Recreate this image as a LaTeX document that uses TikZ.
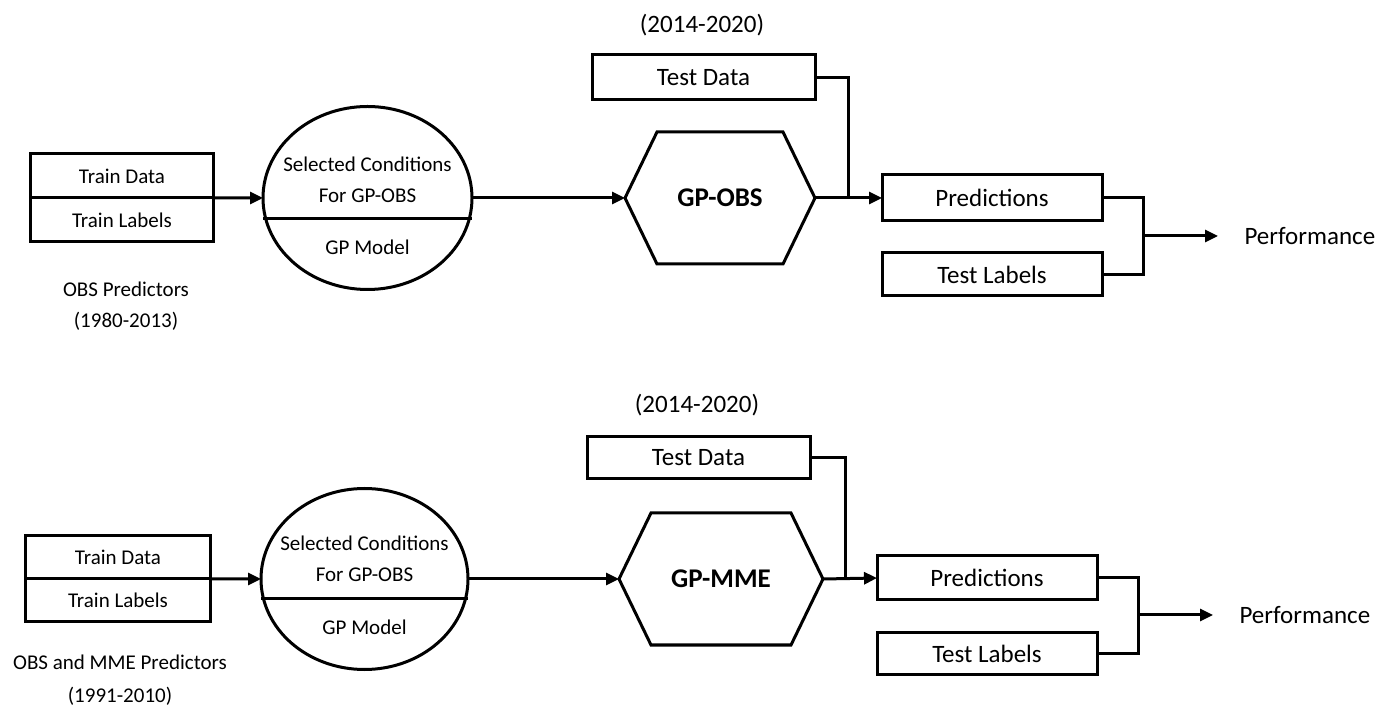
\documentclass[tikz,border=0pt]{standalone}
\usepackage{fontspec}
\setmainfont{Carlito}
\usetikzlibrary{shapes.geometric,arrows.meta}

% hexagon outline round a named node: #1 node, #2 corner cut
\newcommand{\hexframe}[2]{%
  \draw (#1.west) -- ([xshift=#2]#1.north west) -- ([xshift=-#2]#1.north east)
    -- (#1.east) -- ([xshift=-#2]#1.south east) -- ([xshift=#2]#1.south west) -- cycle;}

\begin{document}
\begin{tikzpicture}[x=1bp,y=1bp,inner sep=0pt,line width=3bp,
  small/.style={font=\fontsize{21bp}{31bp}\selectfont,align=center},
  large/.style={font=\fontsize{25bp}{30bp}\selectfont,align=center},
  box/.style={draw,outer sep=0pt},
  oval/.style={draw,ellipse,outer sep=0pt},
  hexa/.style={outer sep=0pt,minimum height=132bp,font=\fontsize{27bp}{30bp}\selectfont\bfseries},
  arr/.style={-{Triangle[length=13bp,width=12bp]}}]
\useasboundingbox (0,0) rectangle (1391,708);

% upper chain: GP-OBS
\node[box,small,minimum width=182bp,minimum height=44bp] (trainA) at (122,532) {Train Data};
\node[box,small,minimum width=182bp,minimum height=44bp] (labelsA) at (122,488) {Train Labels};
\node[small] (predsA) at (126,402) {OBS Predictors\\(1980-2013)};
\node[oval,minimum width=209bp,minimum height=183bp] (ellA) at (367.5,510) {};
\node[small] (condA) at (367.5,528) {Selected Conditions\\For GP-OBS};
\node[small] (modelA) at (367.5,461) {GP Model};
\draw ([yshift=-21bp]ellA.west) -- ([yshift=-21bp]ellA.east);
\node[hexa,minimum width=190bp] (hexA) at (720,510) {GP-OBS};
\hexframe{hexA}{32bp}
\node[large] (yearsA) at (702,683) {(2014-2020)};
\node[box,large,minimum width=223bp,minimum height=45bp] (testA) at (703.5,630.5) {Test Data};
\coordinate (jA) at (848,510);
\node[box,large,minimum width=220bp,minimum height=46bp] (predA) at (992,510) {Predictions};
\node[box,large,minimum width=220bp,minimum height=43bp] (tlabA) at (992,433.5) {Test Labels};
\coordinate (brA) at (1143,472);
\node[large,anchor=west,inner xsep=25bp] (perfA) at (1218,472) {Performance};

\draw[arr] (trainA.south east) -- (ellA.west);
\draw[arr] (ellA.east) -- (hexA.west);
\draw[arr] (hexA.east) -- (predA.west);
\draw (testA.east) -| (jA);
\draw (predA.east) -| (brA) |- (tlabA.east);
\draw[arr] (brA) -- (perfA.west);

% lower chain: GP-MME
\node[box,small,minimum width=184bp,minimum height=43bp] (trainB) at (118,150.5) {Train Data};
\node[box,small,minimum width=184bp,minimum height=43bp] (labelsB) at (118,107.5) {Train Labels};
\node[small,font=\fontsize{21bp}{33bp}\selectfont] (predsB) at (120,28) {OBS and MME Predictors\\(1991-2010)};
\node[oval,minimum width=207bp,minimum height=181bp] (ellB) at (364.5,129) {};
\node[small] (condB) at (364.5,149) {Selected Conditions\\For GP-OBS};
\node[small] (modelB) at (364.5,81) {GP Model};
\draw ([yshift=-20bp]ellB.west) -- ([yshift=-20bp]ellB.east);
\node[hexa,minimum width=204bp] (hexB) at (721,129) {GP-MME};
\hexframe{hexB}{32bp}
\node[large] (yearsB) at (697,303) {(2014-2020)};
\node[box,large,minimum width=223bp,minimum height=42bp] (testB) at (698.5,250) {Test Data};
\coordinate (jB) at (845,129);
\node[box,large,minimum width=220bp,minimum height=44bp] (predB) at (987,130) {Predictions};
\node[box,large,minimum width=220bp,minimum height=42bp] (tlabB) at (987,54) {Test Labels};
\coordinate (brB) at (1138,93);
\node[large,anchor=west,inner xsep=25bp] (perfB) at (1213,93) {Performance};

\draw[arr] (trainB.south east) -- (ellB.west);
\draw[arr] (ellB.east) -- (hexB.west);
\draw[arr] (hexB.east) -- (predB.west);
\draw (testB.east) -| (jB);
\draw (predB.east) -| (brB) |- (tlabB.east);
\draw[arr] (brB) -- (perfB.west);
\end{tikzpicture}
\end{document}
